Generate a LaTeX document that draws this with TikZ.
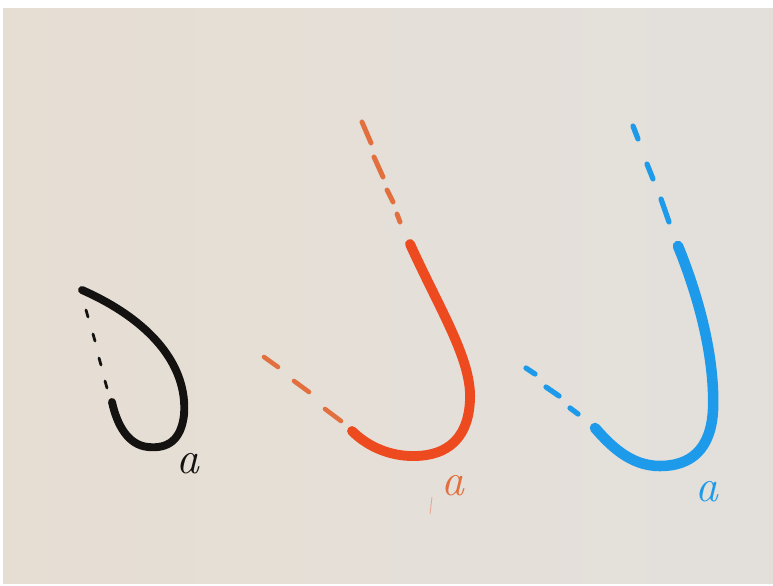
\documentclass[tikz,border=0pt]{standalone}
\usepackage{xcolor}
\definecolor{paperL}{HTML}{E6DED3}
\definecolor{paperR}{HTML}{E3E0DC}
\definecolor{inkBlack}{HTML}{141210}
\definecolor{inkRed}{HTML}{EE4A1F}
\definecolor{inkRedLight}{HTML}{E2703F}
\definecolor{inkBlue}{HTML}{1E9AEA}
\definecolor{inkPink}{HTML}{E8A595}

\begin{document}
\begin{tikzpicture}[x=0.02cm,y=-0.02cm,
  solid/.style={line cap=round,line join=round},
  dashline/.style={line cap=round},
  lbl/.style={font=\fontsize{26}{26}\selectfont\itshape,inner sep=0pt}
]
\useasboundingbox (0,0) rectangle (773,585);
\fill[white] (0,0) rectangle (773,585);
\shade[left color=paperL,right color=paperR] (3,8) rectangle (773,583);

% black curve
\draw[solid,inkBlack,line width=4.5pt] (82,290) .. controls (150,320) and (188,365) .. (184,415)
  .. controls (181,440) and (168,449) .. (148,447)
  .. controls (128,445) and (117,425) .. (112,402);
\foreach \p/\q in {{(86,310)}/{(88,317)},{(93,334)}/{(95,341)},{(99,358)}/{(101,365)},{(105,381)}/{(107,388)}}
  \draw[dashline,inkBlack,line width=1.6pt] \p -- \q;
\node[lbl,text=inkBlack] (la) at (188,464) {a};

% red curve
\draw[solid,inkRed,line width=5.6pt] (410,244) .. controls (440,310) and (472,360) .. (470,400)
  .. controls (468,445) and (440,457) .. (410,456)
  .. controls (385,455) and (365,444) .. (352,431);
\foreach \p/\q in {{(362,122)}/{(371,143)},{(374,157)}/{(383,177)},{(387,190)}/{(393,202)},{(397,214)}/{(400,222)}}
  \draw[dashline,inkRedLight,line width=2.8pt] \p -- \q;
\foreach \p/\q in {{(264,357)}/{(278,367)},{(294,381)}/{(309,392)},{(325,409)}/{(341,421)}}
  \draw[dashline,inkRedLight,line width=2.6pt] \p -- \q;
\node[lbl,text=inkRedLight] (lb) at (453,486) {a};
\draw[inkPink,line width=0.5pt] (432,497) -- (430,514);

% blue curve
\draw[solid,inkBlue,line width=6pt] (678,246) .. controls (700,300) and (715,360) .. (713,410)
  .. controls (711,450) and (690,466) .. (660,466)
  .. controls (630,466) and (610,445) .. (595,428);
\foreach \p/\q in {{(633,126)}/{(638,139)},{(647,164)}/{(653,179)},{(661,199)}/{(669,222)}}
  \draw[dashline,inkBlue,line width=3pt] \p -- \q;
\foreach \p/\q in {{(526,368)}/{(535,374)},{(546,387)}/{(559,396)},{(570,408)}/{(578,414)}}
  \draw[dashline,inkBlue,line width=3pt] \p -- \q;
\node[lbl,text=inkBlue] (lc) at (707,492) {a};
\end{tikzpicture}
\end{document}
